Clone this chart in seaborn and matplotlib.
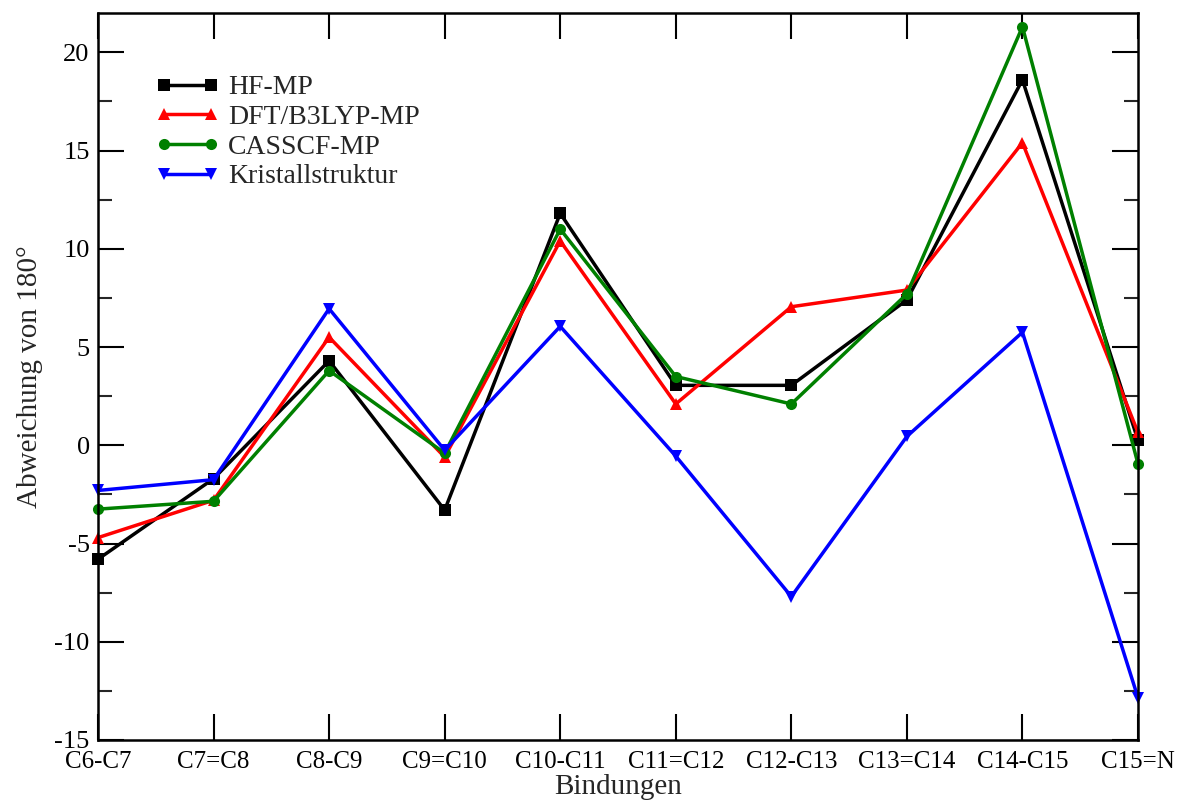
import matplotlib
matplotlib.use("Agg")
import matplotlib.pyplot as plt
import seaborn as sns
import pandas as pd
import numpy as np
from matplotlib.ticker import MultipleLocator

bonds = ["C6-C7", "C7=C8", "C8-C9", "C9=C10", "C10-C11", "C11=C12",
         "C12-C13", "C13=C14", "C14-C15", "C15=N"]
hf_mp = [-5.8, -1.7, 4.3, -3.3, 11.8, 3.05, 3.05, 7.4, 18.6, 0.25]
dft_mp = [-4.7, -2.8, 5.5, -0.6, 10.4, 2.1, 7.05, 7.9, 15.4, 0.65]
casscf_mp = [-3.25, -2.85, 3.8, -0.4, 11.0, 3.5, 2.1, 7.7, 21.3, -0.95]
kristall = [-2.3, -1.75, 6.95, -0.25, 6.05, -0.55, -7.7, 0.45, 5.75, -12.85]

series = [("HF-MP", hf_mp, "black", "s"),
          ("DFT/B3LYP-MP", dft_mp, "red", "^"),
          ("CASSCF-MP", casscf_mp, "green", "o"),
          ("Kristallstruktur", kristall, "blue", "v")]

sns.set_theme(style="ticks")
plt.rcParams['font.family'] = ['Liberation Serif', 'DejaVu Serif']
plt.rcParams['axes.unicode_minus'] = False

fig = plt.figure(figsize=(11.77, 8.02), dpi=100)
ax = fig.add_axes([98/1177, 1-740/802, (1138-98)/1177, (740-13)/802])

idx = np.arange(len(bonds))
for name, vals, col, mk in series:
    df = pd.DataFrame({"x": idx, "y": vals})
    sns.lineplot(data=df, x="x", y="y", ax=ax, color=col, marker=mk,
                 markersize=8, markeredgewidth=0, linewidth=2.5, label=name,
                 clip_on=False)

ax.set_xlim(0, 9)
ax.set_ylim(-15, 22)
ax.set_xticks(idx)
ax.set_xticklabels(bonds)
ax.yaxis.set_major_locator(MultipleLocator(5))
ax.yaxis.set_minor_locator(MultipleLocator(2.5))
ax.tick_params(axis='both', which='major', direction='in', length=19, width=1.5,
               top=True, right=True, labelsize=18, colors='black')
ax.tick_params(axis='y', which='major', labelsize=19, pad=6)
ax.tick_params(axis='y', which='minor', direction='in', length=10, width=1.5,
               left=True, right=True)
ax.tick_params(axis='x', which='major', pad=8)
for s in ax.spines.values():
    s.set_linewidth(1.8)
    s.set_color('black')
    s.set_visible(True)

ax.set_xlabel("Bindungen", fontsize=21, labelpad=1)
ax.set_ylabel("Abweichung von 180°", fontsize=21, labelpad=8)

leg = ax.legend(loc='upper left', bbox_to_anchor=(0.045, 0.93), frameon=False,
                fontsize=20, numpoints=2, handlelength=2.3, handletextpad=0.3,
                labelspacing=0.15, borderaxespad=0)

fig.savefig("out.png", dpi=100)
